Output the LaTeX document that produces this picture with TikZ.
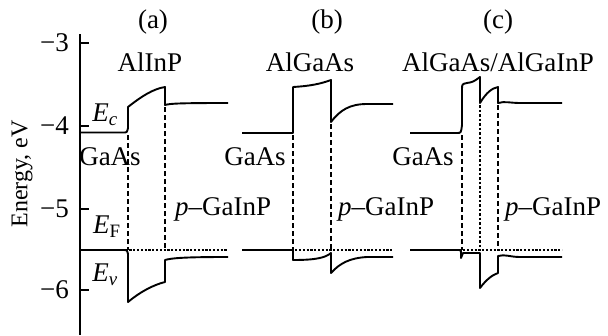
\documentclass[tikz,border=0pt]{standalone}
\usepackage{fontspec}
\setmainfont{Liberation Serif}
\begin{document}
\begin{tikzpicture}[x=1pt,y=-1pt,
  band/.style={line width=1.9pt,line join=round},
  axisline/.style={line width=1.9pt},
  fermi/.style={line width=1.2pt,dash pattern=on 2.2pt off 1.6pt},
  iface/.style={line width=1.3pt,dash pattern=on 5pt off 3pt},
  ifacefine/.style={line width=1.2pt,dash pattern=on 2.5pt off 2pt},
  lbl/.style={inner sep=0pt,font=\fontsize{27}{32}\selectfont}]
\useasboundingbox (0,0) rectangle (608,335);
% axis
\draw[axisline] (80,34) -- (80,335);
\foreach \yy/\tt in {43/3,126/4,209/5,290/6}{
  \draw[axisline] (80,\yy) -- (89,\yy);
  \node[lbl,anchor=east] (t\tt) at (69,\yy) {−\tt};
}
\node[lbl,rotate=90,font=\fontsize{24}{28}\selectfont] (ylab) at (22,174) {Energy, eV};
% ---------- panel (a)
\draw[band] (80,132.5) -- (123,132.5) .. controls (127,132.5) .. (128,128) -- (128,107)
  .. controls (142,96) and (153,89) .. (165,87) -- (165,105)
  .. controls (170,103.5) and (180,103) .. (228,103);
\draw[band] (80,250) -- (123,250) .. controls (127,250) .. (128,254) -- (128,302)
  .. controls (140,292) and (153,285) .. (165,282) -- (165,260)
  .. controls (172,258) and (185,257) .. (228,257);
\draw[fermi] (80,250) -- (228,250);
\draw[iface] (128,135) -- (128,250);
\draw[iface] (165,107) -- (165,250);
\node[lbl] (pa) at (153,22) {(a)};
\node[lbl] (ma) at (150,62) {AlInP};
\node[lbl] (ec) at (105,115) {\textit{E}\textsubscript{\textit{c}}};
\node[lbl] (ef) at (107,227) {\textit{E}\textsubscript{F}};
\node[lbl] (ev) at (105,275) {\textit{E}\textsubscript{\textit{v}}};
\node[lbl] (ga) at (110,157) {GaAs};
\node[lbl,anchor=west] (pga) at (175,209) {\textit{p}–GaInP};
% ---------- panel (b)
\draw[band] (242,133) -- (293,133) -- (293,87)
  .. controls (310,86) and (320,84) .. (331,80) -- (331,122)
  .. controls (340,110) and (350,104) .. (367,104) -- (393,104);
\draw[band] (242,250) -- (293,250) -- (293,260)
  .. controls (315,260) and (325,258) .. (331,253) -- (331,273)
  .. controls (340,263) and (350,258) .. (367,257) -- (393,257);
\draw[fermi] (242,250) -- (393,250);
\draw[iface] (293,135) -- (293,250);
\draw[iface] (331,124) -- (331,250);
\node[lbl] (pb) at (327,22) {(b)};
\node[lbl] (mb) at (310,62) {AlGaAs};
\node[lbl] (gb) at (255,157) {GaAs};
\node[lbl,anchor=west] (pgb) at (338,209) {\textit{p}–GaInP};
% ---------- panel (c)
\draw[band] (410,133) -- (457,133) .. controls (461,133) .. (462,125) -- (462,90)
  .. controls (462,84) .. (467,83) .. controls (473,82) .. (480,77) -- (480,103)
  .. controls (486,93) and (492,88) .. (498,87) -- (498,103)
  .. controls (505,101) and (510,103) .. (520,103) -- (562,103);
\draw[band] (410,250) -- (459,250) .. controls (461,250) .. (461,253) -- (461,258)
  -- (463,253) -- (480,253) -- (480,288)
  .. controls (486,280) and (492,275) .. (498,273) -- (498,256)
  .. controls (505,254) and (510,257) .. (520,257) -- (562,257);
\draw[fermi] (410,250) -- (562,250);
\draw[iface] (462,135) -- (462,250);
\draw[ifacefine] (480,105) -- (480,250);
\draw[iface] (498,105) -- (498,250);
\node[lbl] (pc) at (498,22) {(c)};
\node[lbl] (mc) at (498,62) {AlGaAs/AlGaInP};
\node[lbl] (gc) at (423,157) {GaAs};
\node[lbl,anchor=west] (pgc) at (505,209) {\textit{p}–GaInP};
\end{tikzpicture}
\end{document}
